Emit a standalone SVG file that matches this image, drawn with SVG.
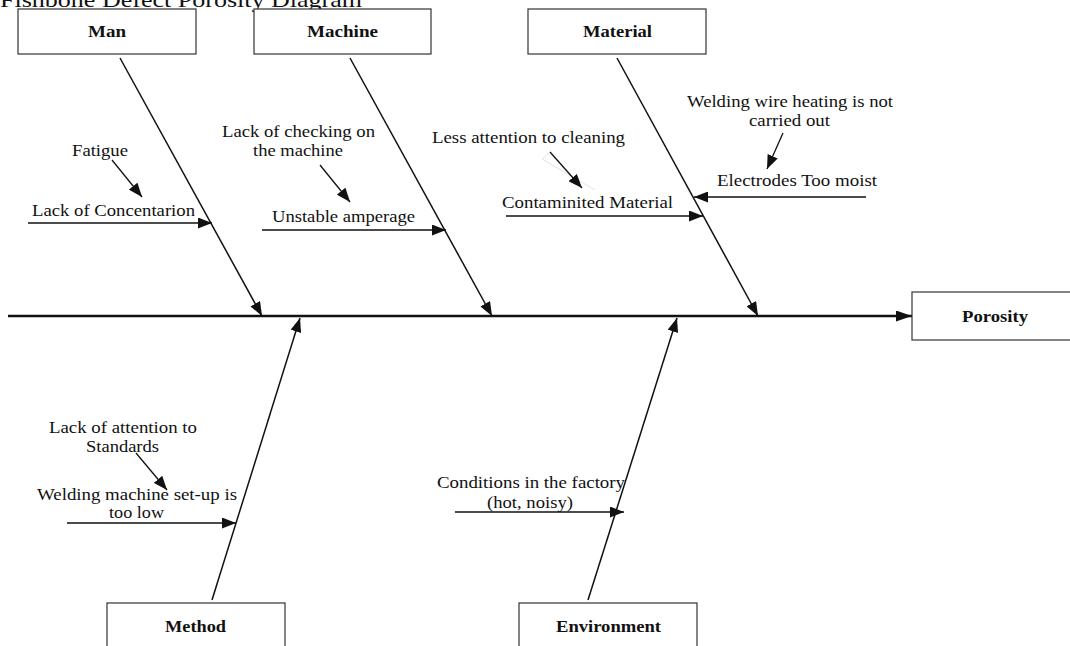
<svg xmlns="http://www.w3.org/2000/svg" width="1070" height="646" viewBox="0 0 1070 646">
<defs>
<style>
.box{fill:#fff;stroke:#333;stroke-width:1.2}
.lbl{font-family:"Liberation Serif","Times New Roman",serif;font-size:16px;font-weight:bold;fill:#111;text-anchor:start}
.t{font-family:"Liberation Serif","Times New Roman",serif;font-size:16px;fill:#111}
.bone{stroke:#111;stroke-width:1.5;fill:none}
.sub{stroke:#111;stroke-width:1.3;fill:none}
.spine{stroke:#111;stroke-width:2.5;fill:none}
</style>
<marker id="ah" viewBox="0 0 14 11" refX="14" refY="5.5" markerWidth="14" markerHeight="11" markerUnits="userSpaceOnUse" orient="auto">
<path d="M0,0 L14,5.5 L0,11 z" fill="#111"/>
</marker>
<marker id="ahs" viewBox="0 0 16 11" refX="16" refY="5.5" markerWidth="16" markerHeight="11" markerUnits="userSpaceOnUse" orient="auto">
<path d="M0,0 L16,5.5 L0,11 z" fill="#111"/>
</marker>
</defs>
<rect width="1070" height="646" fill="#fff"/>
<text class="t" x="0" y="7" style="font-size:22px" textLength="362" lengthAdjust="spacingAndGlyphs">Fishbone Defect Porosity Diagram</text>

<g id="connectors">
<line class="spine" x1="8" y1="316" x2="912" y2="316" marker-end="url(#ahs)"/>
<line class="bone" x1="120" y1="58" x2="262" y2="316" marker-end="url(#ah)"/>
<line class="bone" x1="350" y1="58" x2="492" y2="316" marker-end="url(#ah)"/>
<line class="bone" x1="617" y1="58" x2="758" y2="316" marker-end="url(#ah)"/>
<line class="bone" x1="212" y1="600" x2="300" y2="318" marker-end="url(#ah)"/>
<line class="bone" x1="588" y1="600" x2="677" y2="318" marker-end="url(#ah)"/>
<line class="sub" x1="112" y1="160" x2="142" y2="197" marker-end="url(#ah)"/>
<line class="sub" x1="28" y1="223" x2="212" y2="223" marker-end="url(#ah)"/>
<line class="sub" x1="320" y1="165" x2="350" y2="202" marker-end="url(#ah)"/>
<line class="sub" x1="262" y1="230" x2="446" y2="230" marker-end="url(#ah)"/>
<polyline points="550,152 542,159 595,190" fill="none" stroke="#dbe5ef" stroke-width="1"/>
<line class="sub" x1="550" y1="152" x2="582" y2="188" marker-end="url(#ah)"/>
<line class="sub" x1="506" y1="216" x2="703" y2="216" marker-end="url(#ah)"/>
<line class="sub" x1="783" y1="133" x2="767" y2="169" marker-end="url(#ah)"/>
<line class="sub" x1="866" y1="197" x2="694" y2="197" marker-end="url(#ah)"/>
<line class="sub" x1="136" y1="453" x2="167" y2="490" marker-end="url(#ah)"/>
<line class="sub" x1="67" y1="523" x2="236" y2="523" marker-end="url(#ah)"/>
<line class="sub" x1="455" y1="512" x2="624" y2="512" marker-end="url(#ah)"/>
</g>

<g id="man"><rect class="box" x="18" y="9" width="178" height="45"/><text class="lbl" x="88" y="37" textLength="38" lengthAdjust="spacingAndGlyphs">Man</text></g>
<g id="machine"><rect class="box" x="254" y="9" width="177" height="45"/><text class="lbl" x="307" y="37" textLength="71" lengthAdjust="spacingAndGlyphs">Machine</text></g>
<g id="material"><rect class="box" x="528" y="9" width="178" height="45"/><text class="lbl" x="583" y="37" textLength="69" lengthAdjust="spacingAndGlyphs">Material</text></g>
<g id="porosity"><rect class="box" x="912" y="292" width="170" height="48"/><text class="lbl" x="962" y="322" textLength="66" lengthAdjust="spacingAndGlyphs">Porosity</text></g>
<g id="method"><rect class="box" x="107" y="603" width="178" height="60"/><text class="lbl" x="165" y="632" textLength="61" lengthAdjust="spacingAndGlyphs">Method</text></g>
<g id="environment"><rect class="box" x="519" y="603" width="178" height="60"/><text class="lbl" x="556" y="632" textLength="105" lengthAdjust="spacingAndGlyphs">Environment</text></g>

<g id="causes">
<text class="t" x="72" y="156" textLength="56" lengthAdjust="spacingAndGlyphs">Fatigue</text>
<text class="t" x="32" y="216" textLength="163" lengthAdjust="spacingAndGlyphs">Lack of Concentarion</text>
<text class="t" x="222" y="137" textLength="153" lengthAdjust="spacingAndGlyphs">Lack of checking on</text>
<text class="t" x="253" y="156" textLength="90" lengthAdjust="spacingAndGlyphs">the machine</text>
<text class="t" x="272" y="222" textLength="143" lengthAdjust="spacingAndGlyphs">Unstable amperage</text>
<text class="t" x="432" y="143" textLength="193" lengthAdjust="spacingAndGlyphs">Less attention to cleaning</text>
<text class="t" x="502" y="208" textLength="171" lengthAdjust="spacingAndGlyphs">Contaminited Material</text>
<text class="t" x="687" y="107" textLength="206" lengthAdjust="spacingAndGlyphs">Welding wire heating is not</text>
<text class="t" x="749" y="126" textLength="81" lengthAdjust="spacingAndGlyphs">carried out</text>
<text class="t" x="717" y="186" textLength="160" lengthAdjust="spacingAndGlyphs">Electrodes Too moist</text>
<text class="t" x="49" y="433" textLength="148" lengthAdjust="spacingAndGlyphs">Lack of attention to</text>
<text class="t" x="86" y="452" textLength="73" lengthAdjust="spacingAndGlyphs">Standards</text>
<text class="t" x="37" y="500" textLength="200" lengthAdjust="spacingAndGlyphs">Welding machine set-up is</text>
<text class="t" x="109" y="518" textLength="55" lengthAdjust="spacingAndGlyphs">too low</text>
<text class="t" x="437" y="488" textLength="188" lengthAdjust="spacingAndGlyphs">Conditions in the factory</text>
<text class="t" x="487" y="508" textLength="86" lengthAdjust="spacingAndGlyphs">(hot, noisy)</text>
</g>
</svg>
